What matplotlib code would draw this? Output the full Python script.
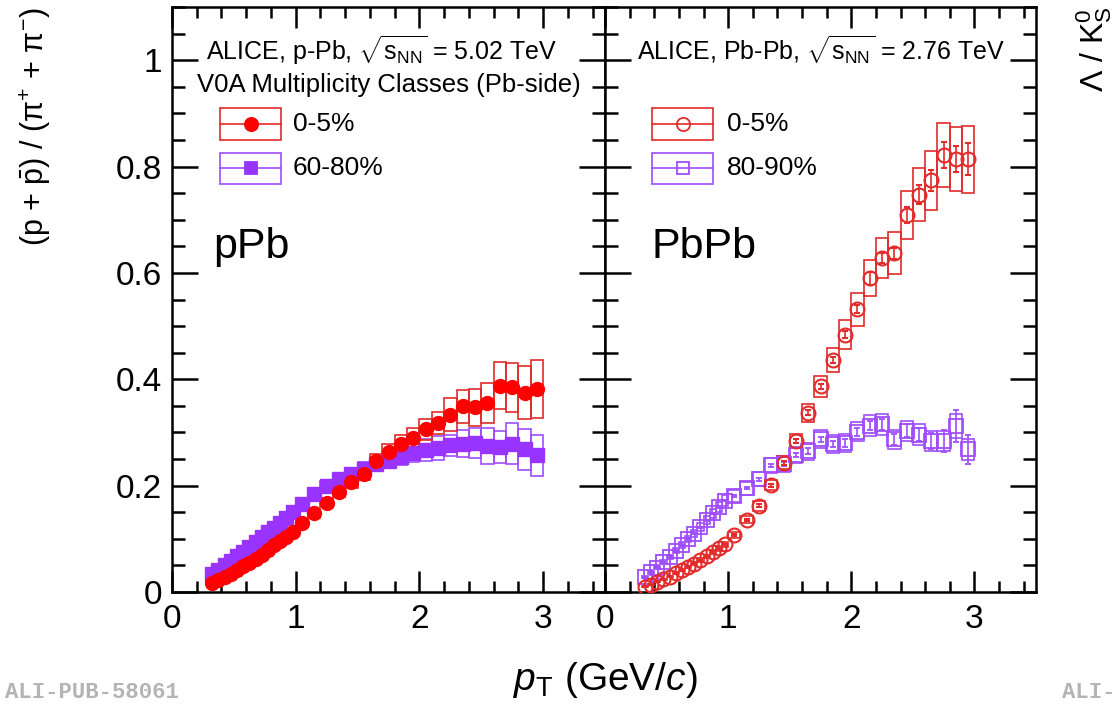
import matplotlib
matplotlib.use('Agg')
import matplotlib.pyplot as plt
from matplotlib.ticker import MultipleLocator
from matplotlib.patches import Rectangle

plt.rcParams['font.family'] = ['Liberation Sans', 'DejaVu Sans']
plt.rcParams['mathtext.fontset'] = 'custom'
plt.rcParams['mathtext.rm'] = 'Liberation Sans'
plt.rcParams['mathtext.it'] = 'Liberation Sans:italic'
plt.rcParams['mathtext.bf'] = 'Liberation Sans:bold'
plt.rcParams['mathtext.sf'] = 'Liberation Sans'

# ---------------- data ----------------
pt = [0.325, 0.375, 0.425, 0.475, 0.525, 0.575, 0.625, 0.675, 0.725, 0.775,
      0.825, 0.875, 0.925, 0.975,
      1.05, 1.15, 1.25, 1.35, 1.45, 1.55, 1.65, 1.75, 1.85, 1.95,
      2.05, 2.15, 2.25, 2.35, 2.45, 2.55, 2.65, 2.75, 2.85, 2.95]
bin_width = [0.05] * 14 + [0.1] * 20

# p-Pb 0-5%
ppb_0_5 = [0.016, 0.022, 0.028, 0.034, 0.041, 0.048, 0.055, 0.062, 0.070, 0.079,
           0.088, 0.096, 0.104, 0.112,
           0.129, 0.148, 0.168, 0.188, 0.207, 0.222, 0.246, 0.263, 0.278, 0.290,
           0.306, 0.318, 0.333, 0.349, 0.347, 0.355, 0.388, 0.385, 0.375, 0.382]
ppb_0_5_sys = [0.001, 0.001, 0.0015, 0.002, 0.002, 0.0025, 0.003, 0.003, 0.0035, 0.004,
               0.0045, 0.005, 0.005, 0.006,
               0.007, 0.008, 0.009, 0.010, 0.011, 0.012, 0.013, 0.015, 0.017, 0.019,
               0.020, 0.021, 0.031, 0.031, 0.034, 0.038, 0.044, 0.046, 0.050, 0.055]
# p-Pb 60-80%
ppb_60_80 = [0.033, 0.042, 0.050, 0.058, 0.067, 0.076, 0.085, 0.094, 0.103, 0.112,
             0.121, 0.130, 0.140, 0.150,
             0.165, 0.185, 0.200, 0.212, 0.222, 0.232, 0.240, 0.247, 0.254, 0.261,
             0.267, 0.271, 0.276, 0.279, 0.280, 0.275, 0.273, 0.279, 0.268, 0.257]
ppb_60_80_sys = [0.001, 0.0015, 0.002, 0.002, 0.0025, 0.003, 0.003, 0.0035, 0.004, 0.0045,
                 0.005, 0.005, 0.0055, 0.006,
                 0.007, 0.008, 0.009, 0.010, 0.011, 0.012, 0.013, 0.014, 0.015, 0.017,
                 0.020, 0.022, 0.020, 0.025, 0.028, 0.034, 0.030, 0.038, 0.038, 0.039]

# Pb-Pb 0-5%
pbpb_0_5 = [0.010, 0.014, 0.019, 0.024, 0.029, 0.035, 0.041, 0.047, 0.053, 0.060,
            0.067, 0.075, 0.082, 0.090,
            0.107, 0.136, 0.162, 0.201, 0.243, 0.284, 0.337, 0.387, 0.436, 0.484,
            0.532, 0.590, 0.628, 0.637, 0.709, 0.747, 0.774, 0.822, 0.814, 0.814]
pbpb_0_5_sys = [0.0005, 0.0007, 0.001, 0.0012, 0.0015, 0.0018, 0.002, 0.0024, 0.0027, 0.003,
                0.0034, 0.0038, 0.0041, 0.0045,
                0.006, 0.007, 0.009, 0.010, 0.012, 0.014, 0.017, 0.020, 0.023, 0.027,
                0.031, 0.034, 0.037, 0.039, 0.045, 0.050, 0.055, 0.060, 0.060, 0.063]
pbpb_0_5_stat = [0.001] * 14 + [0.002, 0.002, 0.003, 0.003, 0.004, 0.004, 0.005, 0.005,
                                0.006, 0.007, 0.008, 0.012, 0.010, 0.010, 0.015, 0.018,
                                0.020, 0.025, 0.025, 0.030]
# Pb-Pb 80-90%
pbpb_80_90 = [0.028, 0.037, 0.046, 0.056, 0.066, 0.078, 0.088, 0.100, 0.110, 0.122,
              0.135, 0.148, 0.160, 0.172,
              0.180, 0.195, 0.212, 0.238, 0.240, 0.257, 0.265, 0.287, 0.278, 0.280,
              0.301, 0.313, 0.315, 0.287, 0.303, 0.296, 0.284, 0.284, 0.312, 0.268]
pbpb_80_90_sys = [0.002, 0.0025, 0.003, 0.0035, 0.004, 0.005, 0.0055, 0.006, 0.007, 0.0075,
                  0.008, 0.009, 0.010, 0.011,
                  0.011, 0.012, 0.013, 0.014, 0.015, 0.015, 0.016, 0.017, 0.017, 0.017,
                  0.018, 0.019, 0.019, 0.018, 0.019, 0.019, 0.018, 0.018, 0.022, 0.019]
pbpb_80_90_stat = [0.001] * 14 + [0.002, 0.002, 0.003, 0.003, 0.004, 0.004, 0.005, 0.005,
                                  0.006, 0.007, 0.008, 0.009, 0.010, 0.010, 0.012, 0.013,
                                  0.015, 0.020, 0.030, 0.028]

RED = '#ff0000'
RED_BOX = '#e22b2b'
PUR = '#9933ff'
PUR_BOX = '#a04dff'

fig = plt.figure(figsize=(11.16, 7.09), dpi=100)
W, H = 1116.0, 709.0
axL = fig.add_axes([172 / W, (H - 592) / H, 433 / W, 585 / H])
axR = fig.add_axes([605 / W, (H - 592) / H, 431 / W, 585 / H])

for ax in (axL, axR):
    ax.set_xlim(0, 3.5)
    ax.set_ylim(0, 1.1)
    ax.xaxis.set_major_locator(MultipleLocator(1))
    ax.xaxis.set_minor_locator(MultipleLocator(0.2))
    ax.yaxis.set_major_locator(MultipleLocator(0.2))
    ax.yaxis.set_minor_locator(MultipleLocator(0.05))
    ax.tick_params(which='both', direction='in', top=True, right=True, width=1.8,
                   labelsize=24)
    ax.xaxis.set_tick_params(which='major', length=15, pad=9)
    ax.xaxis.set_tick_params(which='minor', length=8)
    ax.yaxis.set_tick_params(which='major', length=19, pad=7)
    ax.yaxis.set_tick_params(which='minor', length=9.5)
    for s in ax.spines.values():
        s.set_linewidth(1.8)
    ax.set_xticks([0, 1, 2, 3])
    ax.set_xticklabels(['0', '1', '2', '3'])

axL.set_yticks([0, 0.2, 0.4, 0.6, 0.8, 1.0])
axL.set_yticklabels(['0', '0.2', '0.4', '0.6', '0.8', '1'])
axR.tick_params(labelleft=False)


def sys_boxes(ax, x, y, s, w, color, z):
    ax.bar(x, [2 * v for v in s], bottom=[a - b for a, b in zip(y, s)], width=w,
           fill=False, edgecolor=color, linewidth=1.2, zorder=z)


# p-Pb panel
sys_boxes(axL, pt, ppb_60_80, ppb_60_80_sys, bin_width, PUR_BOX, 2)
sys_boxes(axL, pt, ppb_0_5, ppb_0_5_sys, bin_width, RED_BOX, 2)
axL.plot(pt, ppb_60_80, ls='none', marker='s', ms=9.5, color=PUR, mec=PUR, zorder=3)
axL.plot(pt, ppb_0_5, ls='none', marker='o', ms=10, color=RED, mec=RED, zorder=4)

# Pb-Pb panel
sys_boxes(axR, pt, pbpb_80_90, pbpb_80_90_sys, bin_width, PUR_BOX, 2)
sys_boxes(axR, pt, pbpb_0_5, pbpb_0_5_sys, bin_width, RED_BOX, 2)
axR.errorbar(pt, pbpb_80_90, yerr=pbpb_80_90_stat, ls='none', marker='s', ms=10,
             mfc='none', mec=PUR_BOX, mew=1.3, ecolor=PUR_BOX, elinewidth=1.2,
             capsize=2, zorder=3)
axR.errorbar(pt, pbpb_0_5, yerr=pbpb_0_5_stat, ls='none', marker='o', ms=10,
             mfc='none', mec=RED_BOX, mew=1.5, ecolor=RED_BOX, elinewidth=1.2,
             capsize=2, zorder=4)


def legend_entry(ax, yc, x0, x1, xt, box_color, marker, ms, mfc, mec, label):
    h = 0.054
    ax.add_patch(Rectangle((x0, yc - h / 2), x1 - x0, h, transform=ax.transAxes,
                           fill=False, edgecolor=box_color, lw=1.2, zorder=5))
    ax.plot([x0, x1], [yc, yc], transform=ax.transAxes, color=box_color, lw=1.2,
            zorder=5)
    ax.plot([(x0 + x1) / 2], [yc], transform=ax.transAxes, marker=marker, ms=ms,
            mfc=mfc, mec=mec, mew=1.3, ls='none', zorder=6)
    ax.text(xt, yc, label, transform=ax.transAxes, va='center', ha='left',
            fontsize=19)


legend_entry(axL, 0.800, 0.111, 0.252, 0.279, RED_BOX, 'o', 9.5, RED, RED, '0-5%')
legend_entry(axL, 0.724, 0.111, 0.252, 0.279, PUR_BOX, 's', 8, PUR, PUR, '60-80%')
legend_entry(axR, 0.800, 0.109, 0.251, 0.283, RED_BOX, 'o', 9.5, 'none', RED_BOX, '0-5%')
legend_entry(axR, 0.724, 0.109, 0.251, 0.283, PUR_BOX, 's', 8, 'none', PUR_BOX, '80-90%')

axL.text(0.485, 0.926, r'ALICE, p-Pb, $\sqrt{\mathrm{s}_{\mathrm{NN}}}$ = 5.02 TeV',
         transform=axL.transAxes, ha='center', va='center', fontsize=18)
axL.text(0.50, 0.867, 'V0A Multiplicity Classes (Pb-side)',
         transform=axL.transAxes, ha='center', va='center', fontsize=18.5)
axR.text(0.50, 0.926, r'ALICE, Pb-Pb, $\sqrt{\mathrm{s}_{\mathrm{NN}}}$ = 2.76 TeV',
         transform=axR.transAxes, ha='center', va='center', fontsize=18)

axL.text(0.095, 0.571, 'pPb', transform=axL.transAxes, ha='left', va='baseline',
         fontsize=31)
axR.text(0.109, 0.571, 'PbPb', transform=axR.transAxes, ha='left', va='baseline',
         fontsize=31)

fig.text(35 / W, 1 - 7 / H, r'(p + $\bar{\mathrm{p}}$) / (π$^{+}$ + π$^{-}$)',
         rotation=90, ha='center', va='top', fontsize=22)
fig.text(605 / W, 1 - 680 / H, r'$p_{\mathrm{T}}$ (GeV/$c$)', ha='center',
         va='center', fontsize=28)
fig.text(1094 / W, 1 - 6 / H, r'$\Lambda$ / $\mathrm{K}^{0}_{\mathrm{S}}$',
         rotation=90, ha='center', va='top', fontsize=23)

fig.text(5 / W, 1 - 693 / H, 'ALI-PUB-58061', family='Liberation Mono',
         weight='bold', color='#b4b4b4', fontsize=16, ha='left', va='center')
fig.text(1062 / W, 1 - 693 / H, 'ALI-', family='Liberation Mono',
         weight='bold', color='#b4b4b4', fontsize=16, ha='left', va='center')

fig.savefig('out.png', dpi=100)
